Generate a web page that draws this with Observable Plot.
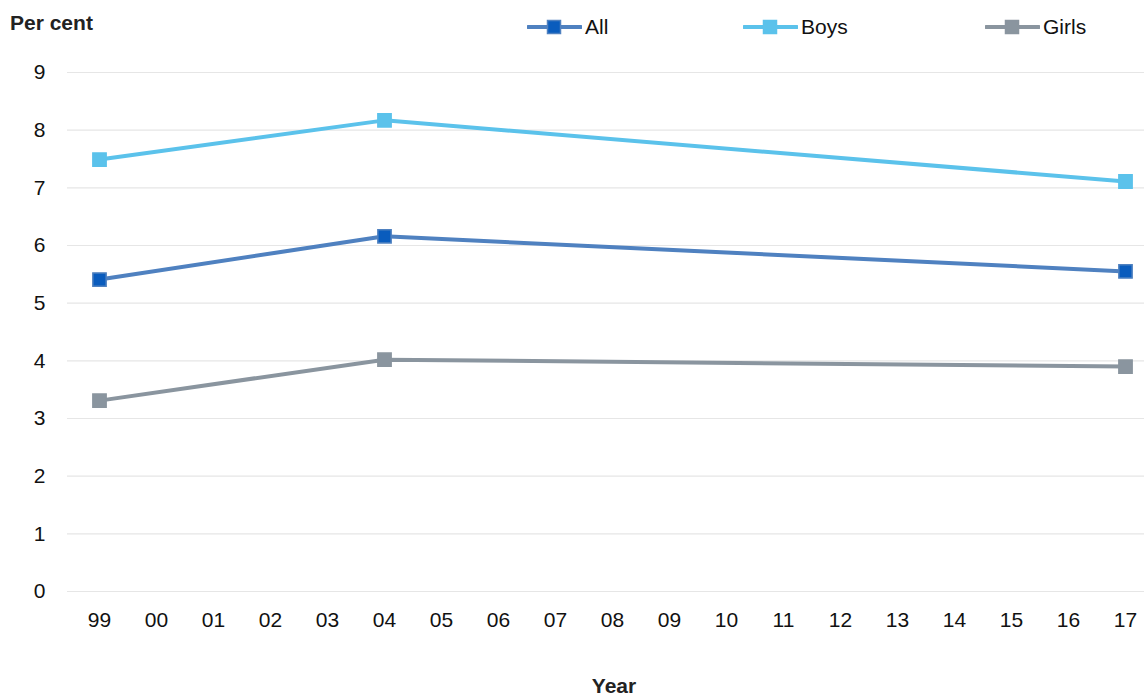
<!DOCTYPE html>
<html>
<head>
<meta charset="utf-8">
<script src="https://cdn.jsdelivr.net/npm/d3@7"></script>
<script src="https://cdn.jsdelivr.net/npm/@observablehq/plot@0.6"></script>
<style>
  html, body { margin: 0; padding: 0; background: #fff; }
  body { width: 1144px; height: 697px; overflow: hidden; font-family: "Liberation Sans", Arial, sans-serif; }
  #wrap { position: relative; width: 1144px; height: 697px; }
  #head { position: relative; height: 50px; }
  #ylab { position: absolute; left: 10px; top: 11px; font-size: 21px; font-weight: bold; color: #222; }
  .leg { position: absolute; top: 15px; font-size: 21px; color: #111; display: flex; align-items: center; }
  .leg svg { margin-right: 3px; }
  #xlab { position: absolute; left: 0; width: 1228px; top: 674px; text-align: center; font-size: 21px; font-weight: bold; color: #222; }
</style>
</head>
<body>
<div id="wrap">
  <div id="head"><div id="ylab">Per cent</div></div>
  <div id="chart"></div>
  <div id="xlab">Year</div>
</div>
<script>
const years = ["99","00","01","02","03","04","05","06","07","08","09","10","11","12","13","14","15","16","17"];
const dataYears = ["99","04","17"];
const series = ["All","Boys","Girls"];
const allValues = [5.41, 6.16, 5.55];
const boysValues = [7.49, 8.17, 7.11];
const girlsValues = [3.31, 4.02, 3.90];
const yTicks = [0,1,2,3,4,5,6,7,8,9];

const lineColors = {All: "#4f81c0", Boys: "#5bc2eb", Girls: "#8a959f"};
const markFill = {All: "#0a5cbd", Boys: "#5bc2eb", Girls: "#8a959f"};

const data = [];
[allValues, boysValues, girlsValues].forEach((vals, i) => {
  vals.forEach((v, j) => data.push({series: series[i], year: dataYears[j], value: v}));
});

const chart = Plot.plot({
  width: 1144,
  height: 610,
  marginLeft: 67,
  marginRight: 0,
  marginTop: 22,
  marginBottom: 69,
  style: {fontFamily: "Liberation Sans, Arial, sans-serif", fontSize: "21px", color: "#111", background: "#fff"},
  x: {type: "point", domain: years, range: [96, 1128], padding: 0, label: null},
  y: {domain: [0, 9], ticks: yTicks, label: null},
  marks: [
    Plot.ruleY(yTicks, {stroke: "#e6e6e6", strokeWidth: 1.2}),
    Plot.axisY({ticks: yTicks, tickSize: 0, tickPadding: 22, tickFormat: d => String(d), fontSize: 21, label: null}),
    Plot.axisX({tickSize: 0, tickPadding: 21, fontSize: 21, label: null}),
    Plot.line(data, {x: "year", y: "value", z: "series", stroke: d => lineColors[d.series], strokeWidth: 4}),
    Plot.dot(data, {x: "year", y: "value", symbol: "square", r: 7.5, fill: d => markFill[d.series], stroke: d => lineColors[d.series], strokeWidth: 1.5})
  ]
});
document.getElementById("chart").appendChild(chart);

// legend
const head = document.getElementById("head");
const legPos = {All: 527, Boys: 743, Girls: 985};
series.forEach(s => {
  const div = document.createElement("div");
  div.className = "leg";
  div.style.left = legPos[s] + "px";
  div.innerHTML = `<svg width="55" height="20"><line x1="1" y1="10" x2="54" y2="10" stroke="${lineColors[s]}" stroke-width="4" stroke-linecap="round"/><rect x="20.5" y="3.5" width="13" height="13" fill="${markFill[s]}" stroke="${lineColors[s]}" stroke-width="1.5"/></svg><span>${s}</span>`;
  head.appendChild(div);
});
</script>
</body>
</html>
